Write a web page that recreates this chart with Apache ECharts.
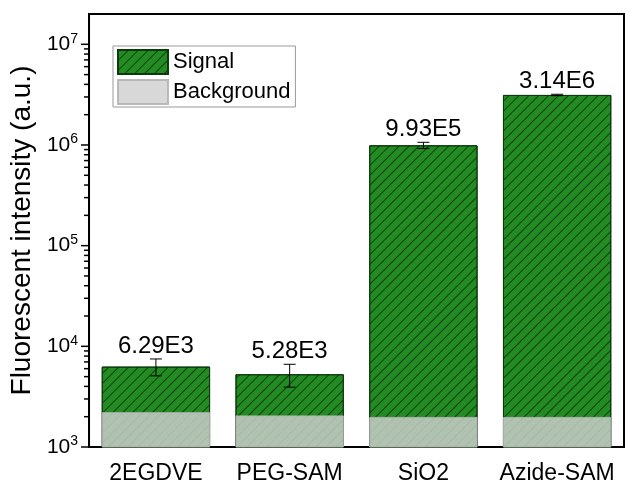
<!DOCTYPE html>
<html>
<head>
<meta charset="utf-8">
<script src="https://cdn.jsdelivr.net/npm/echarts@6/dist/echarts.min.js"></script>
<style>
html,body{margin:0;padding:0;background:#fff;}
#chart{width:626px;height:487px;}
</style>
</head>
<body>
<div id="chart"></div>
<script>
const categories = ['2EGDVE', 'PEG-SAM', 'SiO2', 'Azide-SAM'];
const signalValues = [6290, 5280, 993000, 3140000];
const backgroundValues = [2220, 2060, 1990, 1990];
const signalErrors = [1200, 1350, 70000, 50000];
const valueLabels = ['6.29E3', '5.28E3', '9.93E5', '3.14E6'];
const yMajorTicks = [1e3, 1e4, 1e5, 1e6, 1e7];
const yMinorMultipliers = [2, 3, 4, 5, 6, 7, 8, 9];
const yMinorDecades = [1e3, 1e4, 1e5, 1e6];

const FONT = '"Liberation Sans", Arial, sans-serif';

const tickData = [];
yMajorTicks.forEach(v => tickData.push([0, v, 1]));
yMinorDecades.forEach(d => yMinorMultipliers.forEach(m => tickData.push([0, d * m, 0])));

const errData = categories.map((c, i) => [i, signalValues[i], signalErrors[i]]);

const chart = echarts.init(document.getElementById('chart'), null, {renderer: 'canvas'});

chart.setOption({
  animation: false,
  backgroundColor: '#fff',
  textStyle: {fontFamily: FONT},
  grid: {
    left: 86, right: 2, top: 14, bottom: 40,
    show: true, borderColor: '#000', borderWidth: 2, backgroundColor: 'transparent'
  },
  legend: {
    orient: 'vertical',
    left: 113, top: 46,
    itemWidth: 50, itemHeight: 24, itemGap: 4,
    padding: [3, 5, 2, 4],
    borderColor: '#999', borderWidth: 1,
    backgroundColor: '#fff',
    textStyle: {fontSize: 22, color: '#000', fontFamily: FONT},
    icon: 'rect',
    data: ['Signal', 'Background']
  },
  xAxis: [{
    type: 'category',
    data: categories,
    axisLine: {lineStyle: {color: '#000', width: 2}},
    axisTick: {alignWithLabel: true, length: 7, lineStyle: {color: '#000', width: 2}},
    axisLabel: {interval: 0, fontSize: 23, color: '#000', margin: 15, fontFamily: FONT}
  }, {
    type: 'category',
    data: categories,
    position: 'bottom',
    axisLine: {show: false},
    axisTick: {alignWithLabel: false, length: 4, lineStyle: {color: '#000', width: 2}},
    axisLabel: {show: false}
  }],
  yAxis: {
    type: 'log',
    logBase: 10,
    min: 1000,
    max: 2e7,
    name: 'Fluorescent intensity (a.u.)',
    nameLocation: 'middle',
    nameGap: 45,
    nameTextStyle: {fontSize: 28, color: '#000', fontFamily: FONT},
    axisLine: {show: true, lineStyle: {color: '#000', width: 2}},
    axisTick: {show: false},
    splitLine: {show: false},
    axisLabel: {
      margin: 11,
      color: '#000',
      formatter: function (v) {
        const e = Math.round(Math.log10(v));
        if (Math.abs(v - Math.pow(10, e)) > 1e-6 * v) return '';
        return '{b|10}{s|' + e + '}';
      },
      rich: {
        b: {fontSize: 21, fontFamily: FONT, color: '#000', lineHeight: 25},
        s: {fontSize: 14, fontFamily: FONT, color: '#000', verticalAlign: 'top', lineHeight: 14}
      }
    }
  },
  series: [{
    name: 'Signal',
    type: 'bar',
    data: signalValues,
    barWidth: '81%',
    itemStyle: {
      color: '#228B22',
      borderColor: '#0c3a0c',
      borderWidth: 1,
      decal: {
        symbol: 'rect',
        symbolSize: 1,
        color: 'rgba(0,0,0,0.55)',
        dashArrayX: [1, 0],
        dashArrayY: [1, 6],
        rotation: -Math.PI / 4
      }
    }
  }, {
    name: 'Background',
    type: 'bar',
    data: backgroundValues,
    barWidth: '81%',
    barGap: '-100%',
    itemStyle: {
      color: 'rgba(208,208,208,0.82)',
      borderColor: 'rgba(180,180,180,0.9)',
      borderWidth: 1
    }
  }, {
    name: 'ErrorBars',
    type: 'custom',
    data: errData,
    z: 5,
    clip: false,
    renderItem: function (params, api) {
      const i = api.value(0), v = api.value(1), e = api.value(2);
      const top = api.coord([i, v + e]);
      const bot = api.coord([i, v - e]);
      const hw = 6;
      return {
        type: 'group',
        children: [
          {type: 'line', shape: {x1: top[0], y1: top[1], x2: bot[0], y2: bot[1]}, style: {stroke: '#000', lineWidth: 1}},
          {type: 'line', shape: {x1: top[0] - hw, y1: top[1], x2: top[0] + hw, y2: top[1]}, style: {stroke: '#000', lineWidth: 1}},
          {type: 'line', shape: {x1: bot[0] - hw, y1: bot[1], x2: bot[0] + hw, y2: bot[1]}, style: {stroke: '#000', lineWidth: 1}},
          {type: 'text', style: {text: valueLabels[params.dataIndex], x: top[0], y: top[1] - 13, align: 'center', verticalAlign: 'middle', fontSize: 24, fontFamily: FONT, fill: '#000'}}
        ]
      };
    }
  }, {
    name: 'YTicks',
    type: 'custom',
    data: tickData,
    z: 6,
    clip: false,
    silent: true,
    renderItem: function (params, api) {
      const y = api.coord([0, api.value(1)])[1];
      const x0 = params.coordSys.x;
      const len = api.value(2) === 1 ? 8 : 5;
      return {type: 'line', shape: {x1: x0 - len, y1: y, x2: x0, y2: y}, style: {stroke: '#000', lineWidth: 1.5}};
    }
  }]
});
</script>
</body>
</html>
